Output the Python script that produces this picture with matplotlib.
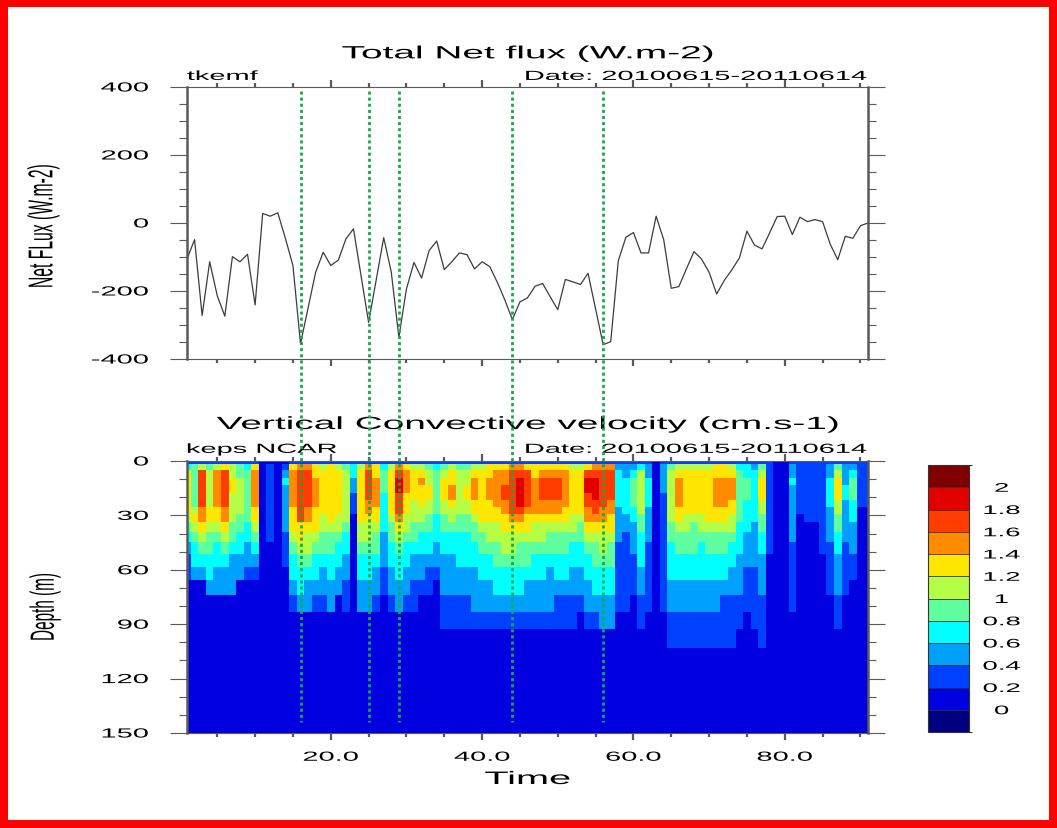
import numpy as np
import matplotlib
matplotlib.use("Agg")
import matplotlib.pyplot as plt
from matplotlib.colors import ListedColormap, BoundaryNorm
from matplotlib.patches import Rectangle
from matplotlib.lines import Line2D
from matplotlib.patheffects import AbstractPathEffect
from matplotlib.transforms import Affine2D

plt.rcParams['font.family'] = ['Liberation Sans', 'DejaVu Sans']

# ---- data -------------------------------------------------------------
days = np.arange(1, 92)

net_flux = [-106, -49, -272, -114, -214, -274, -99, -114, -92, -241,
            28, 20, 30, -45, -125, -355, -250, -145, -86, -125,
            -109, -47, -17, -155, -292, -168, -43, -145, -336, -194,
            -116, -162, -81, -53, -137, -114, -88, -93, -135, -114,
            -128, -174, -226, -284, -232, -220, -186, -178, -217, -255,
            -166, -173, -181, -148, -253, -358, -349, -111, -42, -28,
            -88, -88, 20, -49, -192, -187, -135, -84, -106, -145,
            -209, -169, -138, -103, -24, -65, -76, -29, 19, 20,
            -34, 17, 4, 10, 4, -62, -108, -39, -45, -8, 0]

# days picked out as strong cooling events
event_days = [16, 25, 29, 44, 56]

# model layer interfaces (m)
depth_edges = [0, 1.8, 5.1, 9.2, 13.3, 17.4, 21.5, 25.3, 29.2, 33.6, 39.2,
               44.7, 51.1, 58.5, 65.8, 74.1, 83.3, 92.7, 103.3, 150]

# velocity class per layer (top to bottom), one string per day;
# class k covers [0.2k-0.2, 0.2k) cm/s, hex digits so A = 10, B = 11
vel_classes = [
    "2477777765432211111", "2555555676544311111", "2699999887654311111",
    "2566666776554431111", "2688888776544331111", "2799999887654331111",
    "2667766665543331111", "2556666655443311111", "2455555554433211111",
    "2788888776543211111", "1111111111111111111", "1222222222211111111",
    "1111111111111111111", "1234333333222111111", "2788888777654432111",
    "2899999997765443111", "2899999887665433111", "2778888777654432111",
    "2677777766554332111", "2777777776554433111", "2677777766544331111",
    "2566666665443322111", "2443322211111111111", "2677777776654433111",
    "2899998876654433111", "2778888776554332111", "2455544444333221111",
    "2677777765544332111", "289AA99987654433111", "2788877766544332111",
    "2677776665543322111", "2678777665443321111", "2566776655443221111",
    "2455555544433211111", "2567776655443332211", "2677887665443332211",
    "2566666655444332211", "2566776655444332211", "2678887765544333211",
    "2677777776554433211", "2778887776654433211", "2788888776655443211",
    "2788998877665443211", "2899999987665443211", "289AAAA987655443211",
    "2799999877655433211", "2778888876654433211", "2789998876654433211",
    "2789998876554333211", "2789998876554432211", "2788888776554432211",
    "2677777766544332211", "2677777765544332111", "279AA99887654433211",
    "289AAA9987655443211", "2899999887665443311", "2899998877655443311",
    "2344444333322222111", "2334444433222222111", "2345555443332221111",
    "2466666655444332211", "2334444333322222111", "1111111111111111111",
    "2333322222222222111", "2566666665544433221", "2678888776554433221",
    "2677777766554433221", "2677777765554433221", "2677777766544433221",
    "2677777776554433221", "2778888776554433221", "2778888776554432221",
    "2678887766544332221", "2455555554443332211", "2445554444333222111",
    "2344444443333222211", "2567776655443332221", "2222222222221111111",
    "1111111111111111111", "1111111111111111111", "2334333333322222111",
    "2222222211111111111", "2222222221111111111", "2222222221111111111",
    "2222222222221111111", "2334444333322221111", "2567776655443332211",
    "2333443333322221111", "2345554443332211111", "2222222111111111111",
    "2222222111111111111",
]

level_bounds = np.round(np.arange(-0.2, 2.21, 0.2), 1)
level_colors = ['#000080', '#0000E1', '#0041FF', '#00A0FF', '#00FFFF',
                '#5FFFA0', '#B4FF46', '#FFE600', '#FF8C00', '#FF3C00',
                '#E10000', '#800000']
cbar_ticks = np.round(np.arange(0, 2.01, 0.2), 1)


# ---- helpers ----------------------------------------------------------
class Widen(AbstractPathEffect):
    """Draw glyphs stretched sideways about the left, centre or right."""

    def __init__(self, sx=2.2, anchor="center"):
        super().__init__()
        self.sx = sx
        self.anchor = anchor

    def draw_path(self, renderer, gc, tpath, affine, rgbFace=None):
        ext = tpath.get_extents(affine)
        if self.anchor == "left":
            x0 = ext.x0
        elif self.anchor == "right":
            x0 = ext.x1
        else:
            x0 = 0.5 * (ext.x0 + ext.x1)
        stretch = Affine2D().translate(-x0, 0).scale(self.sx, 1).translate(x0, 0)
        renderer.draw_path(gc, tpath, affine + stretch, rgbFace)


def wide(anchor="center"):
    return [Widen(anchor=anchor)]


FRAME = '#5a5a5a'


def style_axes(ax, ymajor, yminor, show_xlabels):
    for side in ('left', 'right'):
        ax.spines[side].set_linewidth(1.8)
        ax.spines[side].set_color(FRAME)
    for side in ('top', 'bottom'):
        ax.spines[side].set_linewidth(0.8)
        ax.spines[side].set_color(FRAME)
    ax.set_xticks([20, 40, 60, 80])
    ax.set_xticks(np.arange(5, 91, 5), minor=True)
    ax.set_yticks(ymajor)
    ax.set_yticks(yminor, minor=True)
    ax.tick_params(axis='both', which='both', direction='out', colors=FRAME,
                   top=True, right=True, labelcolor='black')
    ax.tick_params(axis='y', which='major', length=12.2, width=0.8,
                   pad=15.5, labelsize=9.5)
    ax.tick_params(axis='y', which='minor', length=5.8, width=0.8)
    ax.tick_params(axis='x', which='major', length=5, width=1.6,
                   pad=8.5, labelsize=9.5)
    ax.tick_params(axis='x', which='minor', length=3, width=1.6)
    ax.set_yticklabels([f"{v:g}" for v in ymajor])
    if show_xlabels:
        ax.set_xticklabels(["20.0", "40.0", "60.0", "80.0"])
    else:
        ax.tick_params(axis='x', labelbottom=False)
    for lab in ax.get_yticklabels():
        lab.set_path_effects(wide("right"))
    for lab in ax.get_xticklabels():
        lab.set_path_effects(wide("center"))


def header(ax, title, left, right, dy_title, dy_sub):
    ax.text(0.5, 1 + dy_title, title, transform=ax.transAxes, ha='center',
            va='baseline', fontsize=12.7, path_effects=wide("center"))
    ax.text(0.0, 1 + dy_sub, left, transform=ax.transAxes, ha='left',
            va='baseline', fontsize=9.5, path_effects=wide("left"))
    ax.text(1.0, 1 + dy_sub, right, transform=ax.transAxes, ha='right',
            va='baseline', fontsize=9.5, path_effects=wide("right"))


# ---- figure -----------------------------------------------------------
W, H = 1057, 829
fig = plt.figure(figsize=(W / 100, H / 100), dpi=100)
ax1 = fig.add_axes([187 / W, 1 - 360 / H, 681 / W, 272 / H])
ax2 = fig.add_axes([187 / W, 1 - 734 / H, 681 / W, 272 / H])
cax = fig.add_axes([928 / W, 1 - 733 / H, 41 / W, 267 / H])

# net heat flux time series
ax1.plot(days, net_flux, color='#3c3c3c', lw=0.9)
ax1.set_xlim(1, 91)
ax1.set_ylim(-400, 400)
style_axes(ax1, [-400, -200, 0, 200, 400], np.arange(-350, 400, 50), False)
header(ax1, "Total Net flux (W.m-2)", "tkemf", "Date: 20100615-20110614",
       0.1055, 0.026)

# convective velocity section
cls = np.array([[int(c, 16) for c in col] for col in vel_classes]).T
vel = 0.2 * cls - 0.1
cmap = ListedColormap(level_colors)
norm = BoundaryNorm(level_bounds, cmap.N)
x_edges = np.arange(0.5, 92.0, 1.0)
mesh = ax2.pcolormesh(x_edges, depth_edges, vel, cmap=cmap, norm=norm,
                      shading='flat', edgecolors='none')
ax2.set_xlim(1, 91)
ax2.set_ylim(150, 0)
style_axes(ax2, [0, 30, 60, 90, 120, 150], np.arange(10, 150, 10), True)
header(ax2, "Vertical Convective velocity (cm.s-1)", "keps NCAR",
       "Date: 20100615-20110614", 0.1176, 0.03)
ax2.text(0.5, -51 / 272, "Time", transform=ax2.transAxes, ha='center',
         va='baseline', fontsize=13, path_effects=wide("center"))

fig.text(43 / W, 1 - 227 / H, "Net FLux (W.m-2)", rotation=90, ha='center',
         va='center', fontsize=11.3, path_effects=wide("center"))
fig.text(45 / W, 1 - 608 / H, "Depth (m)", rotation=90, ha='center',
         va='center', fontsize=11, path_effects=wide("center"))

# colour bar
cb = fig.colorbar(mesh, cax=cax, ticks=cbar_ticks, drawedges=True)
cb.outline.set_linewidth(0.8)
cb.outline.set_edgecolor('#333333')
cb.dividers.set_color('#333333')
cb.dividers.set_linewidth(0.6)
cb.set_ticklabels([f"{t:g}" for t in cbar_ticks])
cax.tick_params(length=0, pad=23.5, labelsize=9)
for lab in cax.get_yticklabels():
    lab.set_horizontalalignment('center')
    lab.set_path_effects(wide("center"))

# event markers running through both panels (flux 389 down to 144 m)
to_fig = fig.transFigure.inverted()
for d in event_days:
    x0, y0 = to_fig.transform(ax1.transData.transform((d, 389)))
    x1, y1 = to_fig.transform(ax2.transData.transform((d, 144)))
    fig.add_artist(Line2D([x0, x1], [y0, y1], transform=fig.transFigure,
                          color='#18a84a', lw=2.0, linestyle=(0, (1.1, 1.1)),
                          dash_capstyle='butt', zorder=10))

# red frame round the page
fig.add_artist(Rectangle((4 / W, 4 / H), 1 - 8 / W, 1 - 8 / H,
                         transform=fig.transFigure, fill=False,
                         edgecolor='#ff0000', lw=5.8, zorder=20))

fig.savefig("out.png", dpi=100)
